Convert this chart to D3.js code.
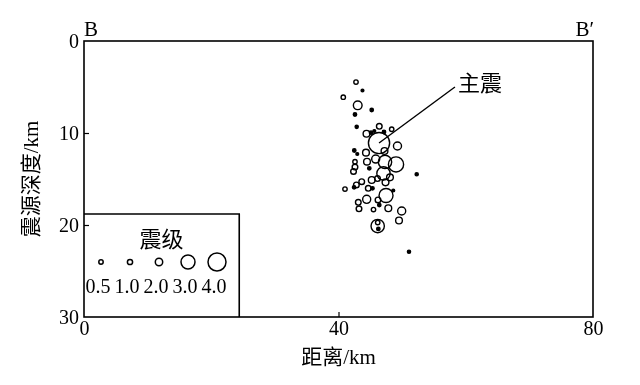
<!DOCTYPE html>
<html><head><meta charset="utf-8">
<script src="https://cdn.jsdelivr.net/npm/d3@7/dist/d3.min.js"></script>
<style>
body{margin:0;background:#fff;}
svg{will-change:transform;}
text{font-family:"Liberation Serif","Noto Sans CJK SC",serif;fill:#000;}
.cjk{font-family:"Liberation Serif","Noto Sans CJK SC",serif;font-weight:400;}
</style></head>
<body><svg id="c" width="640" height="385"></svg>
<script>
// distance (km), depth (km), magnitude
const distance = [42.75,43.77,40.75,43.02,45.22,42.59,42.86,46.41,48.36,44.40,45.11,45.63,47.15,46.37,49.27,42.48,42.95,44.32,47.23,42.59,44.48,45.85,47.31,49.04,42.59,42.36,44.84,47.07,52.29,48.09,43.65,45.22,46.13,47.39,41.02,42.81,42.45,44.68,45.34,47.47,48.61,44.43,43.11,46.21,46.41,43.22,45.50,47.83,49.93,49.51,46.16,46.16,46.26,51.08];
const depth    = [4.46,5.38,6.11,6.99,7.50,7.99,9.33,9.27,9.59,10.08,9.97,9.78,9.89,11.09,11.41,11.90,12.28,12.14,11.96,13.12,13.12,12.83,13.15,13.42,13.70,14.18,13.84,14.40,14.49,14.82,15.29,15.11,14.95,15.36,16.09,15.65,15.90,16.01,16.01,16.79,16.25,17.21,17.53,17.28,17.83,18.24,18.32,18.18,18.48,19.51,20.11,19.73,20.43,22.90];
const magnitude= [0.5,0.1,0.5,2.2,0.25,0.25,0.2,1.2,0.5,1.7,0.25,0.1,0.25,4.8,2.1,0.25,0.1,1.7,1.7,0.5,1.7,2.1,2.9,3.3,1.2,1.2,0.25,2.9,0.2,1.7,1.2,1.7,1.2,1.7,0.5,1.2,0.25,1.2,0.25,3.0,0.1,2.1,1.2,1.2,0.25,1.2,0.5,1.7,2.1,1.7,2.9,0.5,0.25,0.2];
const xTicks = [0,40,80];
const yTicks = [0,10,20,30];
const legendMags = [0.5,1.0,2.0,3.0,4.0];
const legendLabels = ["0.5","1.0","2.0","3.0","4.0"];
const mainShock = {distance:46.37, depth:11.09, label:"主震", labelDistance:58.3, labelDepth:5.0};

const svg = d3.select("#c");
const L=84, R=593, T=41, B=317;
const x = d3.scaleLinear().domain([0,80]).range([L,R]);
const y = d3.scaleLinear().domain([0,30]).range([T,B]);
const r = d3.scaleLinear().domain([0,0.5,1,2,3,4,5]).range([1.2,2.2,2.6,3.7,7,9,11]);

// axes
const gx = svg.append("g").attr("transform",`translate(0,${B})`)
  .call(d3.axisBottom(x).tickValues(xTicks).tickSize(-5).tickPadding(4).tickFormat(d3.format("d")));
const gy = svg.append("g").attr("transform",`translate(${L},0)`)
  .call(d3.axisLeft(y).tickValues(yTicks).tickSize(-5).tickPadding(5).tickFormat(d3.format("d")));
[gx,gy].forEach(g=>{
  g.select(".domain").remove();
  g.selectAll(".tick line").attr("stroke","#000").attr("stroke-width",1.2);
  g.selectAll(".tick text").attr("font-size",20).attr("font-family","Liberation Serif");
});
gx.selectAll(".tick").filter(d=>d===0||d===80).select("line").remove();
gy.selectAll(".tick").filter(d=>d===0||d===30).select("line").remove();

// frame
svg.append("rect").attr("x",L).attr("y",T).attr("width",R-L).attr("height",B-T)
  .attr("fill","none").attr("stroke","#000").attr("stroke-width",1.6);

// B labels
svg.append("text").attr("x",x(0)).attr("y",T-5).attr("font-size",21).text("B");
svg.append("text").attr("x",x(80)+1).attr("y",T-5).attr("font-size",21).attr("text-anchor","end").text("B′");

// axis titles
svg.append("text").attr("class","cjk").attr("x",(L+R)/2).attr("y",364).attr("font-size",21)
  .attr("text-anchor","middle").text("距离/km");
svg.append("text").attr("class","cjk").attr("transform",`translate(38,${(T+B)/2}) rotate(-90)`)
  .attr("font-size",21).attr("text-anchor","middle").text("震源深度/km");

// events
svg.append("g").selectAll("circle").data(distance.map((d,i)=>({d,z:depth[i],m:magnitude[i]})))
  .join("circle")
  .attr("cx",e=>x(e.d)).attr("cy",e=>y(e.z)).attr("r",e=>r(e.m))
  .attr("fill",e=>e.m<0.3?"#000":"none").attr("stroke","#000").attr("stroke-width",1.4);

// main shock annotation
svg.append("line").attr("x1",x(mainShock.distance)).attr("y1",y(mainShock.depth))
  .attr("x2",x(mainShock.labelDistance)).attr("y2",y(mainShock.labelDepth))
  .attr("stroke","#000").attr("stroke-width",1.4);
svg.append("text").attr("class","cjk").attr("x",x(mainShock.labelDistance)+3).attr("y",y(mainShock.labelDepth)+4)
  .attr("font-size",22).text(mainShock.label);

// legend
const lgX1 = x(24.4), lgY0 = y(18.8);
svg.append("path").attr("d",`M${L},${lgY0}H${lgX1}V${B}`).attr("fill","none").attr("stroke","#000").attr("stroke-width",1.6);
svg.append("text").attr("class","cjk").attr("x",(L+lgX1)/2).attr("y",lgY0+33).attr("font-size",22)
  .attr("text-anchor","middle").text("震级");
const lx = d3.scalePoint().domain(legendLabels).range([101,217]);
const lg = svg.append("g");
lg.selectAll("circle").data(legendMags).join("circle")
  .attr("cx",(d,i)=>lx(legendLabels[i])).attr("cy",262).attr("r",d=>r(d))
  .attr("fill","none").attr("stroke","#000").attr("stroke-width",1.5);
lg.selectAll("text").data(legendLabels).join("text")
  .attr("x",d=>lx(d)-3).attr("y",293).attr("font-size",20).attr("text-anchor","middle").text(d=>d);
</script></body></html>
